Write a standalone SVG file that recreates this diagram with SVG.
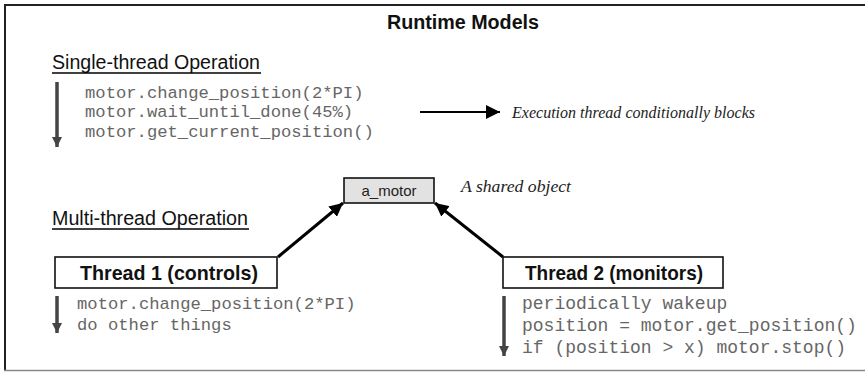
<svg xmlns="http://www.w3.org/2000/svg" width="865" height="373" viewBox="0 0 865 373">
  <style>
    .title { font-family: "Liberation Sans", Arial, sans-serif; font-weight: bold; font-size: 20px; fill: #111; }
    .head { font-family: "Liberation Sans", Arial, sans-serif; font-size: 20px; fill: #111; }
    .code { font-family: "Liberation Mono", "Courier New", monospace; font-size: 17.2px; fill: #666; }
    .code2 { font-family: "Liberation Mono", "Courier New", monospace; font-size: 18px; fill: #666; }
    .note { font-family: "Liberation Serif", "Times New Roman", serif; font-style: italic; font-size: 17.5px; fill: #222; }
    .boxlabel { font-family: "Liberation Sans", Arial, sans-serif; font-weight: bold; font-size: 21px; fill: #111; }
    .small { font-family: "Liberation Sans", Arial, sans-serif; font-size: 15px; fill: #222; text-anchor: middle; }
    .box { fill: #fff; stroke: #111; stroke-width: 1.6; }
    .flow { stroke: #444; stroke-width: 3.5; fill: none; }
    .link { stroke: #000; stroke-width: 3; fill: none; }
    .uline { stroke: #000; stroke-width: 1.6; }
  </style>
  <defs>
    <marker id="downHead" viewBox="0 0 10 10" refX="10" refY="5" markerWidth="3" markerHeight="3" orient="auto" markerUnits="strokeWidth">
      <path d="M0,0 L10,5 L0,10 Z" fill="#444"/>
    </marker>
    <marker id="blackHead" viewBox="0 0 10 10" refX="10" refY="5" markerWidth="4.5" markerHeight="4.5" orient="auto" markerUnits="strokeWidth">
      <path d="M0,0 L10,5 L0,10 Z" fill="#000"/>
    </marker>
    <marker id="bigHead" viewBox="0 0 10 10" refX="10" refY="5" markerWidth="7" markerHeight="7" orient="auto" markerUnits="strokeWidth">
      <path d="M0,0 L10,5 L0,10 Z" fill="#000"/>
    </marker>
  </defs>

  <rect width="865" height="373" fill="#fff"/>

  <!-- frame: top, left, bottom edges -->
  <line x1="5" y1="5" x2="865" y2="5" stroke="#222" stroke-width="2"/>
  <line x1="5" y1="4" x2="5" y2="371" stroke="#222" stroke-width="2"/>
  <line x1="4" y1="370.5" x2="865" y2="370.5" stroke="#888" stroke-width="1.5"/>

  <text class="title" x="387" y="29" textLength="152" lengthAdjust="spacingAndGlyphs">Runtime Models</text>

  <!-- single-thread section -->
  <g id="single-thread">
    <text class="head" x="52" y="69" textLength="208" lengthAdjust="spacingAndGlyphs">Single-thread Operation</text>
    <line class="uline" x1="52" y1="73" x2="261" y2="73"/>
    <text class="code" x="85" y="98">motor.change_position(2*PI)</text>
    <text class="code" x="85" y="117">motor.wait_until_done(45%)</text>
    <text class="code" x="85" y="137">motor.get_current_position()</text>
    <text class="note" x="512" y="118" textLength="243" lengthAdjust="spacingAndGlyphs">Execution thread conditionally blocks</text>
  </g>

  <!-- shared object -->
  <g id="a_motor">
    <rect x="344" y="178" width="90" height="25" fill="#e2e2e2" stroke="#111" stroke-width="1.6"/>
    <text class="small" x="389" y="196">a_motor</text>
  </g>
  <text class="note" x="461" y="192" textLength="110" lengthAdjust="spacingAndGlyphs">A shared object</text>

  <g id="multi-thread-heading">
    <text class="head" x="52" y="225" textLength="196" lengthAdjust="spacingAndGlyphs">Multi-thread Operation</text>
    <line class="uline" x1="52" y1="229" x2="249" y2="229"/>
  </g>

  <g id="thread1">
    <rect class="box" x="55" y="257" width="222" height="31"/>
    <text class="boxlabel" x="80" y="280" textLength="178" lengthAdjust="spacingAndGlyphs">Thread 1 (controls)</text>
    <text class="code" x="77" y="309">motor.change_position(2*PI)</text>
    <text class="code" x="77" y="330">do other things</text>
  </g>

  <g id="thread2">
    <rect class="box" x="503" y="257" width="220" height="31"/>
    <text class="boxlabel" x="525" y="280" textLength="178" lengthAdjust="spacingAndGlyphs">Thread 2 (monitors)</text>
    <text class="code2" x="522" y="309">periodically wakeup</text>
    <text class="code2" x="522" y="331">position = motor.get_position()</text>
    <text class="code2" x="522" y="353">if (position &gt; x) motor.stop()</text>
  </g>

  <!-- connectors -->
  <g id="connectors">
    <line class="flow" x1="57" y1="82" x2="57" y2="147" marker-end="url(#downHead)"/>
    <line class="flow" x1="57" y1="296" x2="57" y2="333" marker-end="url(#downHead)"/>
    <line class="flow" x1="504" y1="296" x2="504" y2="356" marker-end="url(#downHead)"/>
    <line x1="420" y1="112" x2="500" y2="112" stroke="#000" stroke-width="2" marker-end="url(#bigHead)"/>
    <line class="link" x1="278" y1="257" x2="343" y2="203" marker-end="url(#blackHead)"/>
    <line class="link" x1="503" y1="257" x2="435" y2="203" marker-end="url(#blackHead)"/>
  </g>
</svg>
